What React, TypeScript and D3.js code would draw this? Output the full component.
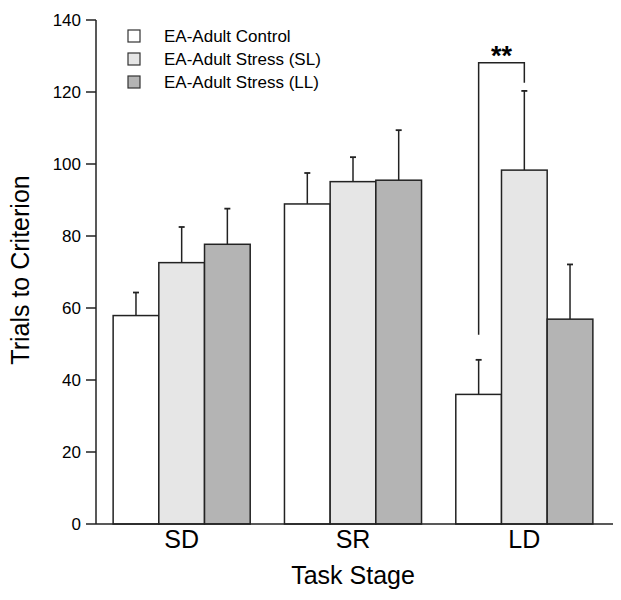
import React from "react";
import * as d3 from "d3";

// chart values
const stages = ["SD", "SR", "LD"];
const groups = ["EA-Adult Control", "EA-Adult Stress (SL)", "EA-Adult Stress (LL)"];
const fills = ["#ffffff", "#e6e6e6", "#b4b4b4"];
const means = [
  [57.9, 72.6, 77.7],
  [88.9, 95.1, 95.5],
  [36.0, 98.3, 56.9],
];
const errors = [
  [6.4, 9.9, 9.9],
  [8.6, 6.8, 13.9],
  [9.6, 22.0, 15.2],
];
const yTicks = [0, 20, 40, 60, 80, 100, 120, 140];
// significance bracket: LD control vs LD stress (SL)
const bracket = { stage: "LD", from: 0, to: 1, top: 128.1, leftEnd: 52.6, rightEnd: 122.6, label: "**" };

const W = 621;
const H = 600;
const font = "'Liberation Sans', Arial, Helvetica, sans-serif";

export default function App() {
  const x = d3.scaleBand().domain(stages).range([96, 610]).paddingInner(0.2).paddingOuter(0.1);
  const xSub = d3.scaleBand().domain(groups).range([0, x.bandwidth()]);
  const y = d3.scaleLinear().domain([0, 140]).range([524, 20]);
  const stroke = "#222";

  const barCenter = (stage: string, gi: number) =>
    (x(stage) ?? 0) + (xSub(groups[gi]) ?? 0) + xSub.bandwidth() / 2;

  const bx1 = barCenter(bracket.stage, bracket.from);
  const bx2 = barCenter(bracket.stage, bracket.to);

  return (
    <svg width={W} height={H} style={{ position: "absolute", left: 0, top: 0, background: "#fff" }}>
      {/* bars */}
      {stages.map((s, si) =>
        groups.map((g, gi) => {
          const x0 = (x(s) ?? 0) + (xSub(g) ?? 0);
          const v = means[si][gi];
          const cx = x0 + xSub.bandwidth() / 2;
          const top = y(v + errors[si][gi]);
          return (
            <g key={s + g}>
              <line x1={cx} x2={cx} y1={y(v)} y2={top} stroke={stroke} strokeWidth={1.5} />
              <line x1={cx - 3} x2={cx + 3} y1={top} y2={top} stroke={stroke} strokeWidth={1.8} />
              <rect x={x0} y={y(v)} width={xSub.bandwidth()} height={y(0) - y(v)} fill={fills[gi]} stroke={stroke} strokeWidth={1.5} />
            </g>
          );
        })
      )}

      {/* significance bracket */}
      <path
        d={`M${bx1},${y(bracket.leftEnd)}V${y(bracket.top)}H${bx2}V${y(bracket.rightEnd)}`}
        fill="none"
        stroke={stroke}
        strokeWidth={1.5}
      />
      <text x={(bx1 + bx2) / 2} y={y(bracket.top) + 2} textAnchor="middle" fontFamily={font} fontSize={27} fontWeight="bold">
        {bracket.label}
      </text>

      {/* y axis */}
      <line x1={96} x2={96} y1={y(140)} y2={y(0)} stroke={stroke} strokeWidth={1.5} />
      {yTicks.map((t) => (
        <g key={t}>
          <line x1={86} x2={96} y1={y(t)} y2={y(t)} stroke={stroke} strokeWidth={1.5} />
          <text x={81} y={y(t)} dy="0.35em" textAnchor="end" fontFamily={font} fontSize={17}>
            {t}
          </text>
        </g>
      ))}

      {/* x axis */}
      <line x1={96} x2={613} y1={y(0)} y2={y(0)} stroke={stroke} strokeWidth={1.5} />
      {stages.map((s) => (
        <text key={s} x={(x(s) ?? 0) + x.bandwidth() / 2} y={548} textAnchor="middle" fontFamily={font} fontSize={25}>
          {s}
        </text>
      ))}

      <text x={353} y={584} textAnchor="middle" fontFamily={font} fontSize={25}>
        Task Stage
      </text>
      <text transform="translate(29,270) rotate(-90)" textAnchor="middle" fontFamily={font} fontSize={25}>
        Trials to Criterion
      </text>

      {/* legend */}
      {groups.map((g, i) => (
        <g key={g} transform={`translate(128,${30 + i * 23})`}>
          <rect width={12} height={12} fill={fills[i]} stroke="#333" strokeWidth={1.2} />
          <text x={36} y={6} dy="0.35em" fontFamily={font} fontSize={17}>
            {g}
          </text>
        </g>
      ))}
    </svg>
  );
}
